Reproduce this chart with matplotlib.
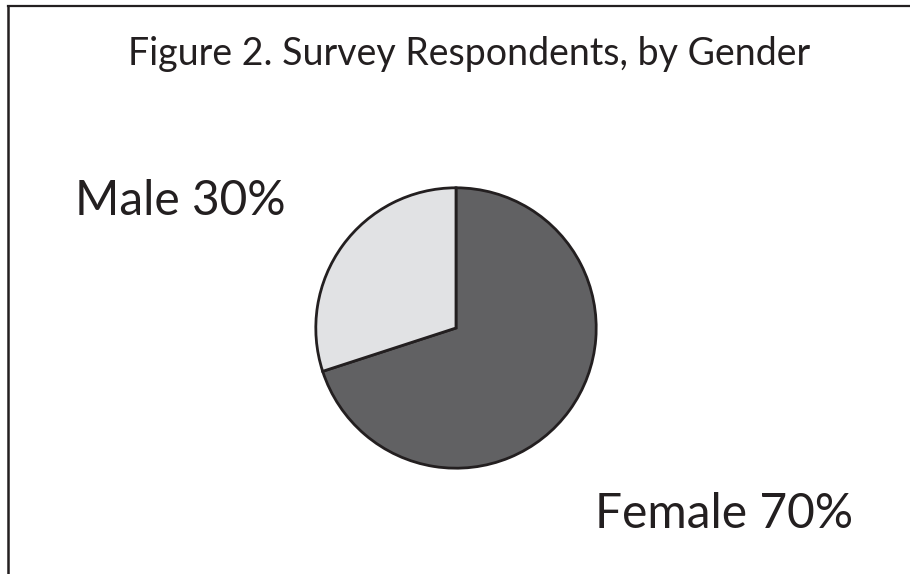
import matplotlib.pyplot as plt
from matplotlib.lines import Line2D

# data
labels = ["Female", "Male"]
shares = [70, 30]
colors = ["#616163", "#e1e2e4"]

title = "Figure 2. Survey Respondents, by Gender"

W, H = 910, 574
fig = plt.figure(figsize=(W / 100, H / 100), dpi=100)
plt.rcParams['font.family'] = ['Lato', 'DejaVu Sans']

# pie axes: centre ~ (456, 328) px, radius ~143 px
cx, cy, r = 456, 328, 143
ax = fig.add_axes([(cx - r) / W, (H - cy - r) / H, 2 * r / W, 2 * r / H])
ax.pie(shares, colors=colors, startangle=90, counterclock=False, radius=1,
       wedgeprops=dict(edgecolor="#231f20", linewidth=2))
ax.set_xlim(-1.02, 1.02)
ax.set_ylim(-1.02, 1.02)
ax.axis("off")

ink = "#231f20"
fig.text(469 / W, 1 - 65 / H, title, ha="center", va="baseline",
         fontsize=27, color=ink)
fig.text(75 / W, 1 - 215 / H, f"{labels[1]} {shares[1]}%", ha="left",
         va="baseline", fontsize=34.5, color=ink)
fig.text(595 / W, 1 - 528 / H, f"{labels[0]} {shares[0]}%", ha="left",
         va="baseline", fontsize=34.5, color=ink)

# frame: top and left lines only
fig.add_artist(Line2D([8 / W, 1], [1 - 6 / H, 1 - 6 / H], color=ink,
                      linewidth=1.6, transform=fig.transFigure))
fig.add_artist(Line2D([8 / W, 8 / W], [0, 1 - 6 / H], color=ink,
                      linewidth=1.8, transform=fig.transFigure))

fig.savefig("out.png", dpi=100)
